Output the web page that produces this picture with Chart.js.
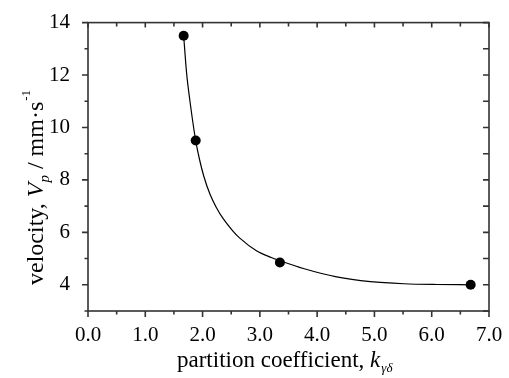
<!DOCTYPE html>
<html>
<head>
<meta charset="utf-8">
<script src="https://cdn.jsdelivr.net/npm/chart.js@4.4.1/dist/chart.umd.min.js"></script>
<style>
html,body{margin:0;padding:0;background:#fff;}
#wrap{width:509px;height:378px;position:relative;}
</style>
</head>
<body>
<div id="wrap"><canvas id="c" width="509" height="378"></canvas></div>
<script>
// measured data points
const kPoints = [1.67, 1.88, 3.35, 6.68];
const vPoints = [13.5, 9.5, 4.85, 4.0];
// fitted curve
const fitK = [1.67, 1.72, 1.78, 1.88, 1.95, 2.02, 2.13, 2.24, 2.36, 2.53, 2.65, 2.94, 3.20, 3.35, 3.76, 4.34, 4.93, 5.51, 6.09, 6.67];
const fitV = [13.5, 12.1, 11.0, 9.5, 8.75, 8.15, 7.45, 6.95, 6.52, 6.05, 5.78, 5.3, 5.04, 4.92, 4.62, 4.3, 4.12, 4.04, 4.01, 4.0];
// tick labels
const xTickValues = [0, 1, 2, 3, 4, 5, 6, 7];
const yTickValues = [4, 6, 8, 10, 12, 14];

const SERIF = '"Liberation Serif", "Times New Roman", serif';
const AREA = {left: 88, right: 489, top: 18, bottom: 311};

const framePlugin = {
  id: 'frame',
  afterDraw(chart) {
    const ctx = chart.ctx;
    const xs = chart.scales.x, ys = chart.scales.y;
    const ca = chart.chartArea;
    ctx.save();
    ctx.strokeStyle = '#333';
    ctx.lineWidth = 1.6;
    ctx.strokeRect(ca.left, ca.top, ca.right - ca.left, ca.bottom - ca.top);
    ctx.beginPath();
    // bottom (outward) and top (inward) ticks every 0.5
    for (let v = xs.min; v <= xs.max + 1e-9; v += 0.5) {
      const px = xs.getPixelForValue(v);
      const major = Math.abs(v - Math.round(v)) < 1e-9;
      ctx.moveTo(px, ca.bottom); ctx.lineTo(px, ca.bottom + (major ? 6 : 3.5));
      ctx.moveTo(px, ca.top); ctx.lineTo(px, ca.top + (major ? 5 : 4));
    }
    // left (outward) and right (inward) ticks every 1
    for (let v = ys.min; v <= ys.max + 1e-9; v += 1) {
      const py = ys.getPixelForValue(v);
      const major = v % 2 === 0;
      ctx.moveTo(ca.left, py); ctx.lineTo(ca.left - (major ? 6 : 3.5), py);
      ctx.moveTo(ca.right, py); ctx.lineTo(ca.right - 6, py);
    }
    ctx.stroke();

    ctx.fillStyle = '#000';
    ctx.textBaseline = 'alphabetic';
    // x title
    let x = 177, y = 367;
    ctx.font = '23px ' + SERIF;
    ctx.textAlign = 'left';
    const t1 = 'partition coefficient, ';
    ctx.fillText(t1, x, y);
    x += ctx.measureText(t1).width;
    ctx.font = 'italic 23px ' + SERIF;
    ctx.fillText('k', x, y);
    x += ctx.measureText('k').width;
    ctx.font = 'italic 13px ' + SERIF;
    ctx.fillText('\u03b3\u03b4', x + 1, y + 5);

    // y title (rotated)
    ctx.translate(43, 285);
    ctx.rotate(-Math.PI / 2);
    x = 0; y = 0;
    ctx.font = '24px ' + SERIF;
    const s1 = 'velocity, ';
    ctx.fillText(s1, x, y);
    x += ctx.measureText(s1).width;
    ctx.font = 'italic 24px ' + SERIF;
    ctx.fillText('V', x, y);
    x += ctx.measureText('V').width;
    ctx.font = 'italic 15px ' + SERIF;
    ctx.fillText('p', x, y + 6);
    x += ctx.measureText('p').width;
    ctx.font = '24px ' + SERIF;
    const s2 = ' / mm\u00b7s';
    ctx.fillText(s2, x, y);
    x += ctx.measureText(s2).width;
    ctx.font = '13px ' + SERIF;
    ctx.fillText('-1', x + 1, y - 13);
    ctx.restore();
  }
};

new Chart(document.getElementById('c'), {
  type: 'scatter',
  data: {
    datasets: [
      {
        label: 'fit',
        data: fitK.map((k, i) => ({x: k, y: fitV[i]})),
        showLine: true,
        borderColor: '#000',
        borderWidth: 1.2,
        pointRadius: 0,
        cubicInterpolationMode: 'monotone',
        fill: false
      },
      {
        label: 'data',
        data: kPoints.map((k, i) => ({x: k, y: vPoints[i]})),
        showLine: false,
        pointRadius: 5,
        pointBackgroundColor: '#000',
        pointBorderColor: '#000',
        pointBorderWidth: 0
      }
    ]
  },
  options: {
    responsive: false,
    animation: false,
    devicePixelRatio: 1,
    layout: {padding: {left: 0, right: 20, top: 18, bottom: 0}},
    plugins: {legend: {display: false}, tooltip: {enabled: false}},
    scales: {
      x: {
        type: 'linear', min: 0, max: 7,
        grid: {display: false}, border: {display: false},
        afterBuildTicks(s) { s.ticks = xTickValues.map(v => ({value: v})); },
        afterFit(s) { s.height = 378 - AREA.bottom; },
        ticks: {
          color: '#000', padding: 4, maxRotation: 0, autoSkip: false,
          font: {family: SERIF, size: 21},
          callback: v => Number(v).toFixed(1)
        }
      },
      y: {
        type: 'linear', min: 3, max: 14,
        grid: {display: false}, border: {display: false},
        afterBuildTicks(s) { s.ticks = yTickValues.map(v => ({value: v})); },
        afterFit(s) { s.width = AREA.left; },
        ticks: {
          color: '#000', padding: 10, autoSkip: false,
          font: {family: SERIF, size: 21},
          callback: v => String(v)
        }
      }
    }
  },
  plugins: [framePlugin]
});
</script>
</body>
</html>
